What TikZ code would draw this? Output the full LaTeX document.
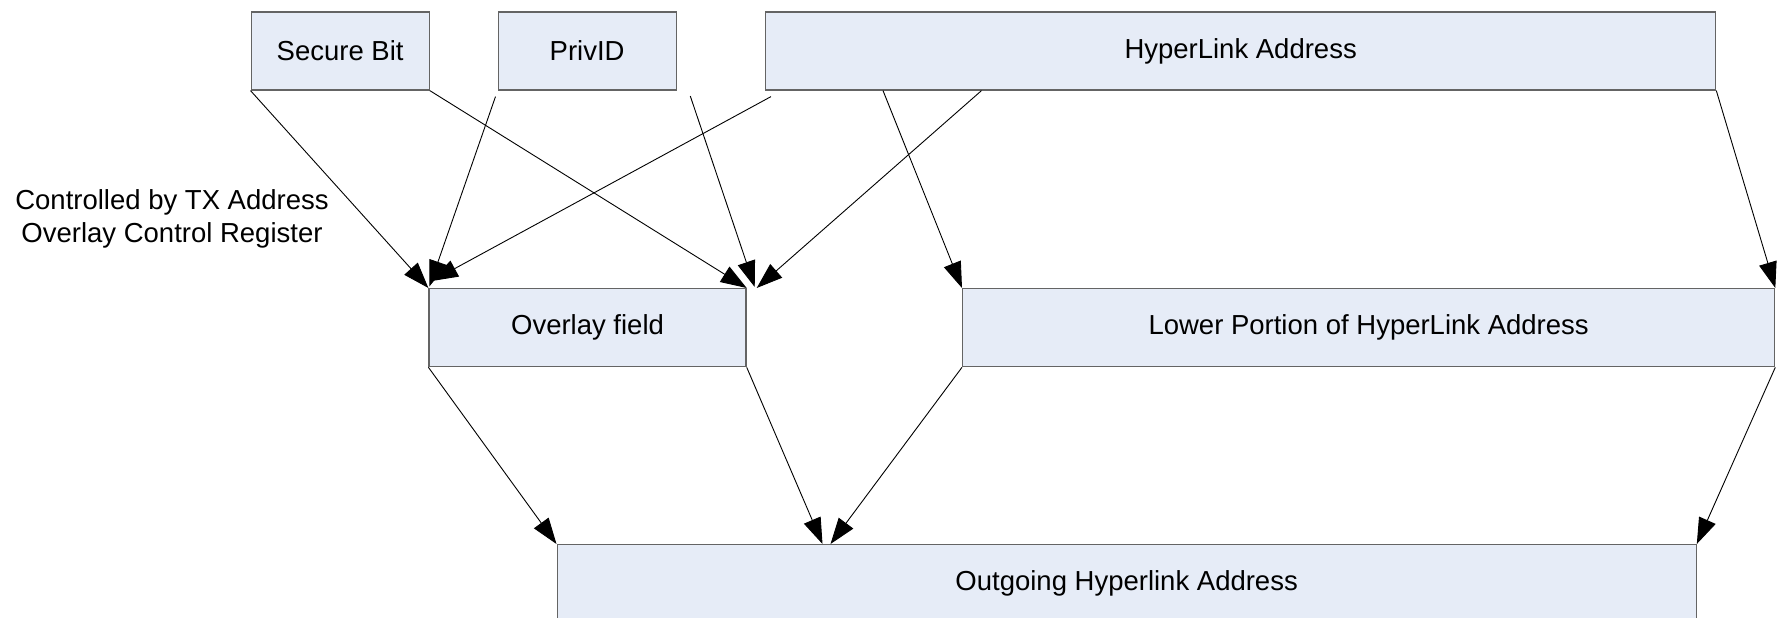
\documentclass[tikz,border=0pt]{standalone}
\usepackage{fontspec}
\setmainfont{Liberation Sans}
\usepackage{xcolor}
\usepackage{tikz}
\usetikzlibrary{arrows.meta,positioning,calc}
\definecolor{boxfill}{RGB}{230,236,247}
\definecolor{boxline}{RGB}{100,100,100}

\begin{document}
\begin{tikzpicture}[
  x=1pt,y=-1pt,
  block/.style={rectangle,draw=boxline,line width=1.3pt,fill=boxfill,anchor=north west,inner sep=0pt,minimum height=78pt,font=\fontsize{27.5}{33}\selectfont},
  arrow/.style={-{Triangle[length=26pt,width=18pt]},line width=0.9pt}
]
\useasboundingbox (0,0) rectangle (1777,618);
% top row
\node[block,minimum width=178pt] (secure) at (250.5,11.3) {Secure Bit};
\node[block,minimum width=178pt] (privid) at (497.5,11.3) {PrivID};
\node[block,minimum width=950pt] (hyperlink) at (765,11.3) {HyperLink Address};
% middle row
\node[block,minimum width=317pt] (overlay) at (428.4,288) {Overlay field};
\node[block,minimum width=812pt] (lower) at (962,288) {Lower Portion of HyperLink Address};
% bottom
\node[block,minimum width=1139pt] (outgoing) at (556.5,544) {Outgoing Hyperlink Address};
\node[align=center,font=\fontsize{27.5}{33}\selectfont] (note) at (172,219) {Controlled by TX Address\\Overlay Control Register};

\draw[arrow] (secure.south west) -- (overlay.north west);
\draw[arrow] (secure.south east) -- (overlay.north east);
\draw[arrow] ($(privid.south west)+(-2,6)$) -- ($(overlay.north west)+(1,-1.5)$);
\draw[arrow] ($(privid.south east)+(13.5,5.5)$) -- ($(overlay.north east)+(8,-1)$);
\draw[arrow] ($(hyperlink.south west)+(6,6)$) -- ($(overlay.north west)+(3.5,-7)$);
\draw[arrow] ($(hyperlink.south west)+(216.5,0)$) -- ($(overlay.north east)+(10,0)$);
\draw[arrow] ($(hyperlink.south west)+(118,0)$) -- (lower.north west);
\draw[arrow] (hyperlink.south east) -- (lower.north east);
\draw[arrow] (overlay.south west) -- (outgoing.north west);
\draw[arrow] (overlay.south east) -- ($(outgoing.north west)+(266,0)$);
\draw[arrow] (lower.south west) -- ($(outgoing.north west)+(274,0)$);
\draw[arrow] (lower.south east) -- (outgoing.north east);
\end{tikzpicture}
\end{document}
